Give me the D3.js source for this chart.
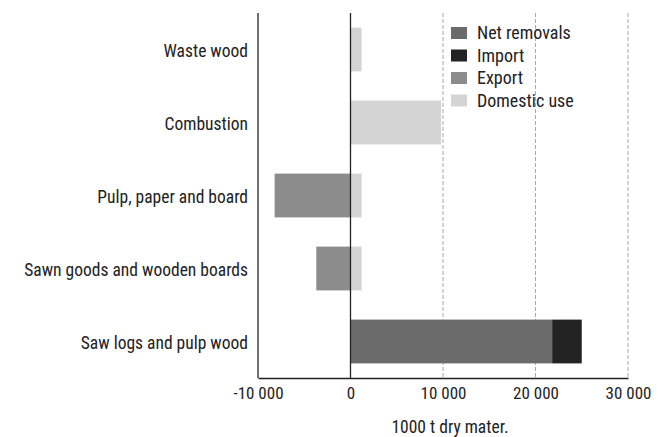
<!DOCTYPE html>
<html>
<head>
<meta charset="utf-8">
<script src="https://cdn.jsdelivr.net/npm/d3@7"></script>
<style>
  body { margin: 0; background: #fff; }
  text { font-family: "Liberation Sans Narrow", "Roboto Condensed", "Arial Narrow", sans-serif; fill: #222; }
</style>
</head>
<body>
<div id="chart"></div>
<script>
var width = 664;
var height = 437;

// data (1000 t dry matter)
var categories = ["Waste wood", "Combustion", "Pulp, paper and board", "Sawn goods and wooden boards", "Saw logs and pulp wood"];
var netRemovals = [0, 0, 0, 0, 21800];
var imports = [0, 0, 0, 0, 3200];
var exports = [0, 0, -8200, -3700, 0];
var domesticUse = [1200, 9800, 1200, 1200, 0];
var seriesNames = ["Net removals", "Import", "Export", "Domestic use"];
var xTicks = [-10000, 0, 10000, 20000, 30000];

var colors = { "Net removals": "#6b6b6b", "Import": "#232323", "Export": "#8c8c8c", "Domestic use": "#d4d4d4" };

var margin = { left: 258, right: 36, top: 13, bottom: 59 };

var svg = d3.select("#chart").append("svg")
    .attr("width", width)
    .attr("height", height);

var xScale = d3.scaleLinear().domain([-10000, 30000]).range([margin.left, width - margin.right]);
var yScale = d3.scaleBand().domain(categories).range([margin.top, height - margin.bottom]).paddingInner(0.4).paddingOuter(0.2);

// gridlines
svg.append("g")
    .selectAll("line")
    .data([10000, 20000, 30000])
    .enter()
    .append("line")
    .attr("x1", function(d) { return xScale(d); })
    .attr("x2", function(d) { return xScale(d); })
    .attr("y1", margin.top)
    .attr("y2", height - margin.bottom)
    .attr("stroke", "#aaa")
    .attr("stroke-width", 1)
    .attr("stroke-dasharray", "4,2");

// build segments: positive values stack from 0, negatives go left from 0
var rows = [];
categories.forEach(function(c, i) {
    var pos = 0;
    var vals = { "Net removals": netRemovals[i], "Import": imports[i], "Export": exports[i], "Domestic use": domesticUse[i] };
    seriesNames.forEach(function(s) {
        var v = vals[s];
        if (v > 0) {
            rows.push({ cat: c, series: s, x0: pos, x1: pos + v });
            pos += v;
        } else if (v < 0) {
            rows.push({ cat: c, series: s, x0: v, x1: 0 });
        }
    });
});

svg.append("g")
    .selectAll("rect")
    .data(rows)
    .enter()
    .append("rect")
    .attr("x", function(d) { return xScale(d.x0); })
    .attr("width", function(d) { return xScale(d.x1) - xScale(d.x0); })
    .attr("y", function(d) { return yScale(d.cat); })
    .attr("height", yScale.bandwidth())
    .attr("fill", function(d) { return colors[d.series]; });

// zero line
svg.append("line")
    .attr("x1", xScale(0)).attr("x2", xScale(0))
    .attr("y1", margin.top).attr("y2", height - margin.bottom)
    .attr("stroke", "#222").attr("stroke-width", 1.3);

// left axis with category labels
var yAxis = d3.axisLeft(yScale).tickSize(0).tickPadding(10);
var yG = svg.append("g")
    .attr("transform", "translate(" + margin.left + ",0)")
    .call(yAxis);
yG.select(".domain").attr("stroke", "#222").attr("stroke-width", 1.3)
    .attr("d", "M0," + margin.top + "V" + (height - margin.bottom));
yG.selectAll("text").style("font-size", "17.5px").attr("fill", "#222").attr("dy", "0.45em");

// bottom axis
var xAxis = d3.axisBottom(xScale).tickValues(xTicks).tickSize(0).tickPadding(9)
    .tickFormat(function(d) { return d3.format(",")(d).replace(",", " ").replace("−", "-"); });
var xG = svg.append("g")
    .attr("transform", "translate(0," + (height - margin.bottom) + ")")
    .call(xAxis);
xG.select(".domain").attr("stroke", "#222").attr("stroke-width", 1.3);
xG.selectAll("text").style("font-size", "17px").attr("fill", "#222");

// axis title
svg.append("text")
    .attr("x", 450)
    .attr("y", 433)
    .style("text-anchor", "middle")
    .style("font-size", "17.5px")
    .text("1000 t dry mater.");

// legend
var legend = svg.append("g").attr("transform", "translate(451,33)");
var item = legend.selectAll("g")
    .data(seriesNames)
    .enter()
    .append("g")
    .attr("transform", function(d, i) { return "translate(0," + (i * 22.5) + ")"; });
item.append("rect")
    .attr("x", 0).attr("y", -6)
    .attr("width", 16).attr("height", 12)
    .attr("fill", function(d) { return colors[d]; });
item.append("text")
    .attr("x", 26).attr("y", 0)
    .attr("dy", "0.35em")
    .style("font-size", "18px")
    .text(function(d) { return d; });
</script>
</body>
</html>
